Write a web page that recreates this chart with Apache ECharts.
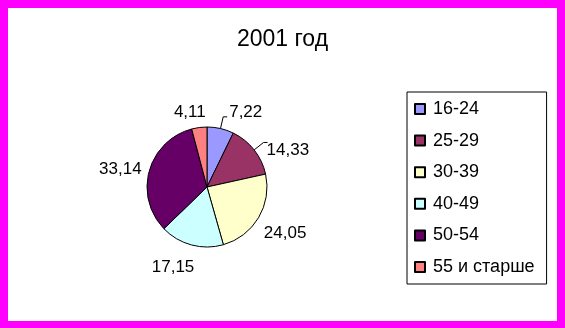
<!DOCTYPE html>
<html>
<head>
<meta charset="utf-8">
<script src="https://cdn.jsdelivr.net/npm/echarts@6/dist/echarts.min.js"></script>
<style>
  html, body { margin: 0; padding: 0; background: #fff; }
  #chart { position: absolute; left: 0; top: 0; width: 565px; height: 328px; }
  #frame { position: absolute; left: 0; top: 0; width: 565px; height: 328px; box-sizing: border-box;
           border: 8px solid #FF00FF; border-bottom-width: 7px; pointer-events: none; }
</style>
</head>
<body>
<div id="chart"></div>
<div id="frame"></div>
<script>
const title = '2001 год';
const categories = ['16-24', '25-29', '30-39', '40-49', '50-54', '55 и старше'];
const values = [7.22, 14.33, 24.05, 17.15, 33.14, 4.11];
const colors = ['#9999FF', '#993366', '#FFFFCC', '#CCFFFF', '#660066', '#FF8080'];
const showLeader = [true, true, false, false, false, false];

const labelNudge = [[-1, -5], [-4, 8], [-12, 9], [13, 11], [11, 2], [15, -3]];

const chart = echarts.init(document.getElementById('chart'), null, { renderer: 'canvas' });
const FONT = 'Liberation Sans, Arial, sans-serif';

chart.setOption({
  animation: false,
  backgroundColor: '#ffffff',
  title: {
    text: title,
    left: 'center',
    top: 23,
    textStyle: { fontFamily: FONT, fontSize: 23, fontWeight: 'normal', color: '#000' }
  },
  legend: {
    orient: 'vertical',
    left: 407,
    top: 92,
    padding: [7, 12, 7, 7],
    borderColor: '#000',
    borderWidth: 1,
    itemWidth: 10,
    itemHeight: 10,
    itemGap: 11.6,
    icon: 'rect',
    selectedMode: false,
    textStyle: { fontFamily: FONT, fontSize: 18, color: '#000', lineHeight: 20, padding: [0, 0, 0, 3] },
    data: categories
  },
  series: [{
    type: 'pie',
    center: [207, 187],
    radius: 60,
    startAngle: 90,
    clockwise: true,
    avoidLabelOverlap: false,
    emphasis: { disabled: true },
    itemStyle: { borderColor: '#000', borderWidth: 1 },
    label: {
      show: true,
      position: 'outside',
      fontFamily: FONT,
      fontSize: 17,
      color: '#000',
      distanceToLabelLine: 3,
      formatter: p => String(p.value).replace('.', ',')
    },
    labelLine: { length: 12, length2: 4, lineStyle: { color: '#000', width: 1 } },
    labelLayout: function (params) {
      const n = labelNudge[params.dataIndex];
      return { dx: n[0], dy: n[1] };
    },
    data: categories.map((c, i) => ({
      name: c,
      value: values[i],
      itemStyle: { color: colors[i] },
      labelLine: { show: showLeader[i] }
    }))
  }]
});
</script>
</body>
</html>
